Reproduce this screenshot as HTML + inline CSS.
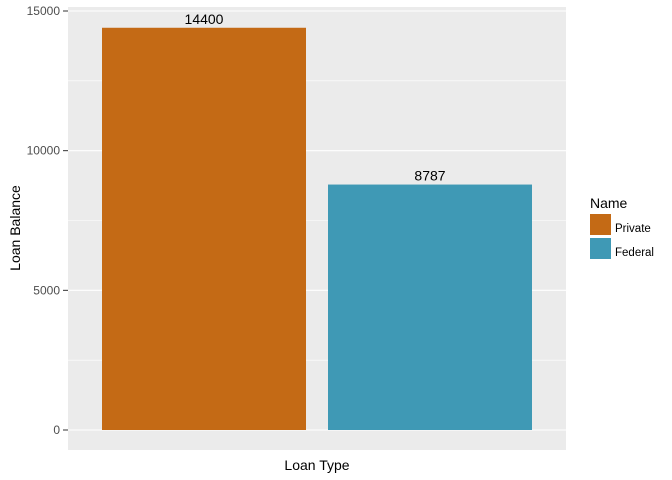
<!DOCTYPE html>
<html><head><meta charset="utf-8"><style>body{margin:0;background:#fff}svg{display:block;font-family:"Liberation Sans",Arial,sans-serif}</style></head>
<body>
<svg id="c" width="672" height="480" xmlns="http://www.w3.org/2000/svg"></svg>
<script>
const categories = ["Private", "Federal"];
const values = [14400, 8787];
const colors = ["#C46A15", "#3F99B5"];
const yTicks = [0, 5000, 10000, 15000];
const yMinor = [2500, 7500, 12500];
const NS = "http://www.w3.org/2000/svg";
const svg = document.getElementById("c");
const pl = 68, pr = 566, pt = 7, pb = 450;
const y = v => 430 - v * 419 / 15000;
function el(t, a, txt){const e=document.createElementNS(NS,t);for(const k in a)e.setAttribute(k,a[k]);if(txt!=null)e.textContent=txt;svg.appendChild(e);return e;}
const bg = el("rect",{x:pl,y:pt,width:pr-pl,height:pb-pt,fill:"#EBEBEB"});


yMinor.forEach(v=>{const l=el("line",{x1:pl,x2:pr,y1:y(v),y2:y(v),stroke:"#fff","stroke-width":0.6});

});
yTicks.forEach(v=>{const l=el("line",{x1:pl,x2:pr,y1:y(v),y2:y(v),stroke:"#fff","stroke-width":1.1});


const tk=el("line",{x1:63,x2:pl,y1:y(v),y2:y(v),stroke:"#333","stroke-width":1});


const t=el("text",{x:60,y:y(v)+4,"text-anchor":"end","font-size":12,fill:"#4D4D4D"},String(v));

});
const bw = 204, x0 = 102, step = 226;
categories.forEach((c,i)=>{
 const bx = x0 + i*step;
 const r=el("rect",{x:bx,y:y(values[i]),width:bw,height:y(0)-y(values[i]),fill:colors[i]});
 
 
 const t=el("text",{x:bx+bw/2,y:y(values[i])-4,"text-anchor":"middle","font-size":14,fill:"#000"},String(values[i]));
 
 
 const k=el("rect",{x:590,y:214+i*24,width:21,height:21,fill:colors[i]});
 
 
 const lt=el("text",{x:615,y:232+i*24,"font-size":11.5,fill:"#000"},c);
 
 
});
const lg=el("text",{x:590,y:208,"font-size":14,fill:"#000"},"Name");


const xt=el("text",{x:317,y:470,"text-anchor":"middle","font-size":14,fill:"#000"},"Loan Type");


const yt=el("text",{x:20,y:228,"text-anchor":"middle","font-size":14,fill:"#000",transform:"rotate(-90 20 228)"},"Loan Balance");


</script>
</body></html>
